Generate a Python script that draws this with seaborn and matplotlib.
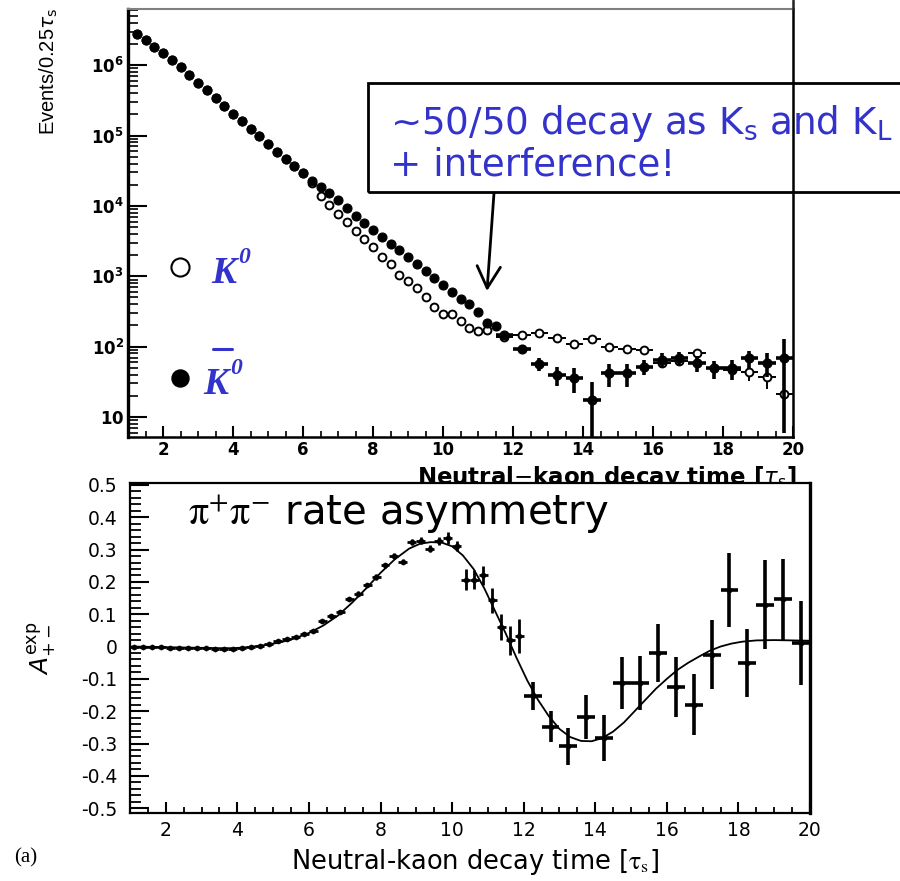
import numpy as np
import pandas as pd
import matplotlib
matplotlib.use("Agg")
import matplotlib.pyplot as plt
import seaborn as sns
from matplotlib.patches import Rectangle
from matplotlib.lines import Line2D
from matplotlib.ticker import MultipleLocator, LogLocator, NullFormatter

# ---------------- data: top panel (events per 0.25 tau_S) ----------------
t_fine = [1.25, 1.5, 1.75, 2.0, 2.25, 2.5, 2.75, 3.0, 3.25, 3.5,
          3.75, 4.0, 4.25, 4.5, 4.75, 5.0, 5.25, 5.5, 5.75, 6.0,
          6.25, 6.5, 6.75, 7.0, 7.25, 7.5, 7.75, 8.0, 8.25, 8.5,
          8.75, 9.0, 9.25, 9.5, 9.75, 10.0, 10.25, 10.5, 10.75, 11.0,
          11.25, 11.5]
kbar_fine = [2.82e6, 2.29e6, 1.82e6, 1.48e6, 1.17e6, 9.3e5, 7.2e5, 5.6e5, 4.4e5, 3.4e5,
             2.6e5, 2.0e5, 1.6e5, 1.26e5, 9.8e4, 7.6e4, 5.9e4, 4.7e4, 3.7e4, 2.9e4,
             2.3e4, 1.86e4, 1.55e4, 1.2e4, 9300, 7200, 5750, 4570, 3630, 2880,
             2340, 1860, 1480, 1175, 955, 760, 590, 480, 400, 310,
             215, 195]
k_fine = [2.82e6, 2.29e6, 1.82e6, 1.48e6, 1.17e6, 9.3e5, 7.2e5, 5.6e5, 4.4e5, 3.4e5,
          2.6e5, 2.0e5, 1.6e5, 1.26e5, 9.8e4, 7.6e4, 5.9e4, 4.7e4, 3.7e4, 2.9e4,
          2.14e4, 1.38e4, 1.02e4, 7600, 6000, 4470, 3390, 2570, 1900, 1480,
          1050, 850, 690, 500, 363, 295, 295, 229, 186, 166,
          170]
t_fine_k = t_fine[:41]

t_tail = [11.75, 12.25, 12.75, 13.25, 13.75, 14.25, 14.75, 15.25, 15.75,
          16.25, 16.75, 17.25, 17.75, 18.25, 18.75, 19.25, 19.75]
k_tail = [139, 148, 158, 134, 110, 127, 100, 94, 90, 59, 63, 82, 49, 47, 44, 37, 21]
k_tail_err = [10, 10, 11, 10, 10, 10, 10, 10, 10, 10, 10, 10, 12, 12, 12, 12, 15]
kbar_tail = [148, 93, 57, 40, 36, 17.5, 42, 42, 52, 65, 68, 59, 49, 49, 68, 59, 68]
kbar_tail_err = [15, 12, 12, 12, 14, 14, 15, 15, 12, 15, 15, 15, 14, 15, 20, 22, 62]

top_xticks = [2, 4, 6, 8, 10, 12, 14, 16, 18, 20]
top_yticks = [10, 1e2, 1e3, 1e4, 1e5, 1e6]
top_ylabels = [r"$\mathbf{10}$", r"$\mathbf{10^{2}}$", r"$\mathbf{10^{3}}$",
               r"$\mathbf{10^{4}}$", r"$\mathbf{10^{5}}$", r"$\mathbf{10^{6}}$"]

# ---------------- data: bottom panel (asymmetry) ----------------
a_t_fine = [1.125, 1.375, 1.625, 1.875, 2.125, 2.375, 2.625, 2.875, 3.125, 3.375,
            3.625, 3.875, 4.125, 4.375, 4.625, 4.875, 5.125, 5.375, 5.625, 5.875,
            6.125, 6.375, 6.625, 6.875, 7.125, 7.375, 7.625, 7.875, 8.125, 8.375,
            8.625, 8.875, 9.125, 9.375, 9.625, 9.875, 10.125, 10.375, 10.625, 10.875,
            11.125, 11.375, 11.625, 11.875]
a_fine = [0.000, -0.001, -0.002, -0.002, -0.003, -0.004, -0.005, -0.006, -0.006, -0.007,
          -0.008, -0.007, -0.004, 0.000, 0.003, 0.007, 0.017, 0.022, 0.030, 0.040,
          0.048, 0.078, 0.096, 0.108, 0.148, 0.164, 0.190, 0.215, 0.252, 0.280,
          0.263, 0.323, 0.328, 0.302, 0.326, 0.335, 0.311, 0.207, 0.207, 0.220,
          0.143, 0.060, 0.020, 0.032]
a_fine_err = [0.003, 0.003, 0.003, 0.003, 0.003, 0.003, 0.003, 0.003, 0.003, 0.003,
              0.003, 0.003, 0.003, 0.003, 0.003, 0.004, 0.004, 0.004, 0.004, 0.005,
              0.005, 0.005, 0.006, 0.006, 0.006, 0.007, 0.007, 0.008, 0.008, 0.009,
              0.009, 0.010, 0.010, 0.011, 0.012, 0.018, 0.015, 0.033, 0.030, 0.030,
              0.038, 0.040, 0.045, 0.053]
a_t_tail = [12.25, 12.75, 13.25, 13.75, 14.25, 14.75, 15.25, 15.75,
            16.25, 16.75, 17.25, 17.75, 18.25, 18.75, 19.25, 19.75]
a_tail = [-0.154, -0.248, -0.309, -0.218, -0.283, -0.113, -0.113, -0.020,
          -0.126, -0.180, -0.025, 0.175, -0.050, 0.130, 0.146, 0.012]
a_tail_err = [0.043, 0.048, 0.058, 0.068, 0.070, 0.080, 0.083, 0.090,
              0.093, 0.095, 0.107, 0.113, 0.105, 0.138, 0.125, 0.130]

fit_t = [1.0, 1.5, 2.0, 2.5, 3.0, 3.5, 3.9, 4.3, 4.8, 5.2, 5.6, 6.0, 6.4, 6.8, 7.2,
         7.6, 8.0, 8.4, 8.8, 9.1, 9.4, 9.7, 10.0, 10.3, 10.6, 10.9, 11.2, 11.5, 11.8,
         12.1, 12.4, 12.7, 13.0, 13.3, 13.6, 13.9, 14.2, 14.5, 14.8, 15.1, 15.4, 15.7,
         16.0, 16.3, 16.6, 16.9, 17.2, 17.5, 17.8, 18.1, 18.5, 19.0, 19.5, 20.0]
fit_a = [0.000, -0.001, -0.002, -0.003, -0.004, -0.005, -0.005, -0.002, 0.005, 0.013,
         0.025, 0.042, 0.065, 0.095, 0.135, 0.180, 0.228, 0.270, 0.303, 0.318, 0.323,
         0.322, 0.310, 0.282, 0.240, 0.180, 0.110, 0.040, -0.035, -0.105, -0.165,
         -0.215, -0.255, -0.280, -0.292, -0.293, -0.283, -0.263, -0.235, -0.200,
         -0.165, -0.130, -0.100, -0.072, -0.050, -0.031, -0.013, 0.000, 0.009, 0.015,
         0.019, 0.020, 0.019, 0.018]

bot_yticks = [0.5, 0.4, 0.3, 0.2, 0.1, 0.0, -0.1, -0.2, -0.3, -0.4, -0.5]
bot_ylabels = ["0.5", "0.4", "0.3", "0.2", "0.1", "0", "-0.1", "-0.2", "-0.3", "-0.4", "-0.5"]
bot_xticks = [2, 4, 6, 8, 10, 12, 14, 16, 18, 20]

BLUE = "#3333cc"

sns.set_theme(style="ticks")
plt.rcParams["font.family"] = ["DejaVu Sans"]
plt.rcParams["mathtext.fontset"] = "dejavusans"
plt.rcParams.update({"text.color": "black", "axes.labelcolor": "black",
                     "xtick.color": "black", "ytick.color": "black"})

W, H = 900, 881
fig = plt.figure(figsize=(9, 8.81), dpi=100)


def fx(px):
    return px / W


def fy(py):
    return 1 - py / H


# ---------------- annotation box (behind top axes spine) ----------------
fig.add_artist(Rectangle((fx(368), fy(192)), 0.7, fy(83) - fy(192),
                         transform=fig.transFigure, fill=False, ec="black",
                         lw=2.0, zorder=-2))
fig.text(fx(390), fy(134), r"~50/50 decay as K$_\mathrm{s}$ and K$_\mathrm{L}$",
         color=BLUE, fontsize=26.8, va="baseline", ha="left", zorder=-1)
fig.text(fx(390), fy(175), "+ interference!", color=BLUE, fontsize=26.8,
         va="baseline", ha="left", zorder=-1)

# ---------------- top panel ----------------
ax1 = fig.add_axes([fx(128), fy(437), fx(793) - fx(128), fy(9) - fy(437)])
ax1.set_facecolor("none")
ax1.set_yscale("log")

df_k = pd.DataFrame({"t": t_fine_k, "n": k_fine})
df_kb = pd.DataFrame({"t": t_fine, "n": kbar_fine})
df_kt = pd.DataFrame({"t": t_tail, "n": k_tail, "e": k_tail_err})
df_kbt = pd.DataFrame({"t": t_tail, "n": kbar_tail, "e": kbar_tail_err})

ax1.errorbar(df_kt["t"], df_kt["n"], yerr=df_kt["e"], xerr=0.25, fmt="none",
             ecolor="black", elinewidth=1.4, zorder=2)
sns.scatterplot(data=df_k, x="t", y="n", ax=ax1, marker="o", s=32,
                facecolor="white", edgecolor="black", linewidth=1.4, zorder=3)
sns.scatterplot(data=df_kt, x="t", y="n", ax=ax1, marker="o", s=32,
                facecolor="white", edgecolor="black", linewidth=1.4, zorder=3)
ax1.errorbar(df_kbt["t"], df_kbt["n"], yerr=df_kbt["e"], xerr=0.25, fmt="none",
             ecolor="black", elinewidth=2.6, zorder=4)
sns.scatterplot(data=df_kb, x="t", y="n", ax=ax1, marker="o", s=42,
                color="black", edgecolor="black", linewidth=0.8, zorder=5)
sns.scatterplot(data=df_kbt, x="t", y="n", ax=ax1, marker="o", s=42,
                color="black", edgecolor="black", linewidth=0.8, zorder=5)

ax1.set_xlim(1, 20)
ax1.set_ylim(5.2, 6.3e6)
ax1.set_xticks(top_xticks)
ax1.set_xticklabels([str(v) for v in top_xticks])
ax1.xaxis.set_minor_locator(MultipleLocator(0.5))
ax1.set_yticks(top_yticks)
ax1.set_yticklabels(top_ylabels)
ax1.yaxis.set_minor_locator(LogLocator(base=10, subs=[2, 3, 4, 5, 6, 7, 8, 9], numticks=20))
ax1.yaxis.set_minor_formatter(NullFormatter())
ax1.tick_params(axis="y", which="major", direction="in", length=14, width=1.5,
                labelsize=12, pad=3)
ax1.tick_params(axis="y", which="minor", direction="in", length=7, width=1.2)
ax1.tick_params(axis="x", which="major", direction="in", length=8, width=1.5,
                labelsize=12, pad=3)
ax1.tick_params(axis="x", which="minor", direction="in", length=4, width=1.2)
for lab in ax1.get_xticklabels() + ax1.get_yticklabels():
    lab.set_fontweight("bold")
ax1.set_xlabel("")
ax1.set_ylabel("")
for side in ["left", "bottom", "right", "top"]:
    ax1.spines[side].set_visible(True)
    ax1.spines[side].set_color("black")
ax1.spines["left"].set_linewidth(2.4)
ax1.spines["bottom"].set_linewidth(1.8)
ax1.spines["right"].set_linewidth(1.8)
ax1.spines["top"].set_linewidth(1.5)
ax1.spines["top"].set_color("#808080")
fig.add_artist(Line2D([fx(793), fx(793)], [fy(9), 1.0], color="#222222", lw=1.8))

# legend-like markers & labels
ax1.scatter([0.078], [0.397], transform=ax1.transAxes, s=170, facecolor="white",
            edgecolor="black", linewidth=1.5, zorder=6)
ax1.scatter([0.078], [0.138], transform=ax1.transAxes, s=150, color="black", zorder=6)
fig.text(fx(211), fy(283), "K", color=BLUE, fontsize=27, fontweight="bold",
         fontstyle="italic", family="Liberation Serif", va="baseline")
fig.text(fx(238), fy(263), "0", color=BLUE, fontsize=17, fontweight="bold",
         fontstyle="italic", family="Liberation Serif", va="baseline")
fig.text(fx(203), fy(394), "K", color=BLUE, fontsize=27, fontweight="bold",
         fontstyle="italic", family="Liberation Serif", va="baseline")
fig.text(fx(230), fy(374), "0", color=BLUE, fontsize=17, fontweight="bold",
         fontstyle="italic", family="Liberation Serif", va="baseline")
fig.add_artist(Line2D([fx(213), fx(232)], [fy(349), fy(349)], color=BLUE, lw=2.2))

fig.text(fx(49), fy(8), r"Events/0.25$\tau_\mathrm{s}$", rotation=90, ha="center",
         va="top", fontsize=14.5, family="Liberation Sans")
fig.text(fx(797), fy(484), r"Neutral$-$kaon decay time [$\tau_\mathrm{s}$]",
         fontsize=16.5, fontweight="bold", ha="right", va="baseline", zorder=-1)

# arrow
ax1.annotate("", xy=(fx(487), fy(291)), xytext=(fx(494), fy(193)),
             xycoords="figure fraction", textcoords="figure fraction",
             arrowprops=dict(arrowstyle="->,head_length=1.3,head_width=0.7",
                             lw=2.0, color="black", shrinkA=0, shrinkB=0))

# ---------------- bottom panel ----------------
ax2 = fig.add_axes([fx(130), fy(813), fx(810) - fx(130), fy(483) - fy(813)])
ax2.set_facecolor("white")

df_af = pd.DataFrame({"t": a_t_fine, "a": a_fine, "e": a_fine_err})
df_at = pd.DataFrame({"t": a_t_tail, "a": a_tail, "e": a_tail_err})
df_fit = pd.DataFrame({"t": fit_t, "a": fit_a})

sns.lineplot(data=df_fit, x="t", y="a", ax=ax2, color="black", lw=1.3, sort=False)
ax2.errorbar(df_af["t"], df_af["a"], yerr=df_af["e"], xerr=0.125, fmt="none",
             ecolor="black", elinewidth=2.0, zorder=3)
ax2.errorbar(df_at["t"], df_at["a"], yerr=df_at["e"], xerr=0.25, fmt="none",
             ecolor="black", elinewidth=2.6, zorder=3)
sns.scatterplot(data=df_af, x="t", y="a", ax=ax2, marker="o", s=14, color="black",
                edgecolor="black", zorder=4)
sns.scatterplot(data=df_at, x="t", y="a", ax=ax2, marker="o", s=14, color="black",
                edgecolor="black", zorder=4)

ax2.set_xlim(1, 20)
ax2.set_ylim(-0.515, 0.506)
ax2.set_xticks(bot_xticks)
ax2.set_xticklabels([str(v) for v in bot_xticks])
ax2.xaxis.set_minor_locator(MultipleLocator(0.5))
ax2.set_yticks(bot_yticks)
ax2.set_yticklabels(bot_ylabels)
ax2.yaxis.set_minor_locator(MultipleLocator(0.02))
ax2.tick_params(axis="y", which="major", direction="in", length=14, width=1.5,
                labelsize=13.5, pad=9)
ax2.tick_params(axis="y", which="minor", direction="in", length=8, width=1.3)
ax2.tick_params(axis="x", which="major", direction="in", length=8, width=1.5,
                labelsize=13.5, pad=6)
ax2.tick_params(axis="x", which="minor", direction="in", length=4, width=1.3)
ax2.set_xlabel("")
ax2.set_ylabel(r"$A^{\rm exp}_{+-}$", fontsize=18, labelpad=16)
for side in ["left", "bottom", "right", "top"]:
    ax2.spines[side].set_visible(True)
    ax2.spines[side].set_linewidth(1.6)
    ax2.spines[side].set_color("black")
ax2.spines["right"].set_linewidth(2.4)

ax2.text(0.085, 0.905, r"$\mathrm{\pi}^{+}\mathrm{\pi}^{-}$ rate asymmetry",
         transform=ax2.transAxes, fontsize=29, ha="left", va="center",
         math_fontfamily="stix")

fig.text(fx(475), fy(862), r"Neutral-kaon decay time [$\mathrm{\tau}_\mathrm{s}$]",
         fontsize=18.5, ha="center", va="center", math_fontfamily="stix")
fig.text(fx(14), fy(858), "(a)", fontsize=15, family="Liberation Serif",
         ha="left", va="center")

fig.savefig("out.png", dpi=100)
